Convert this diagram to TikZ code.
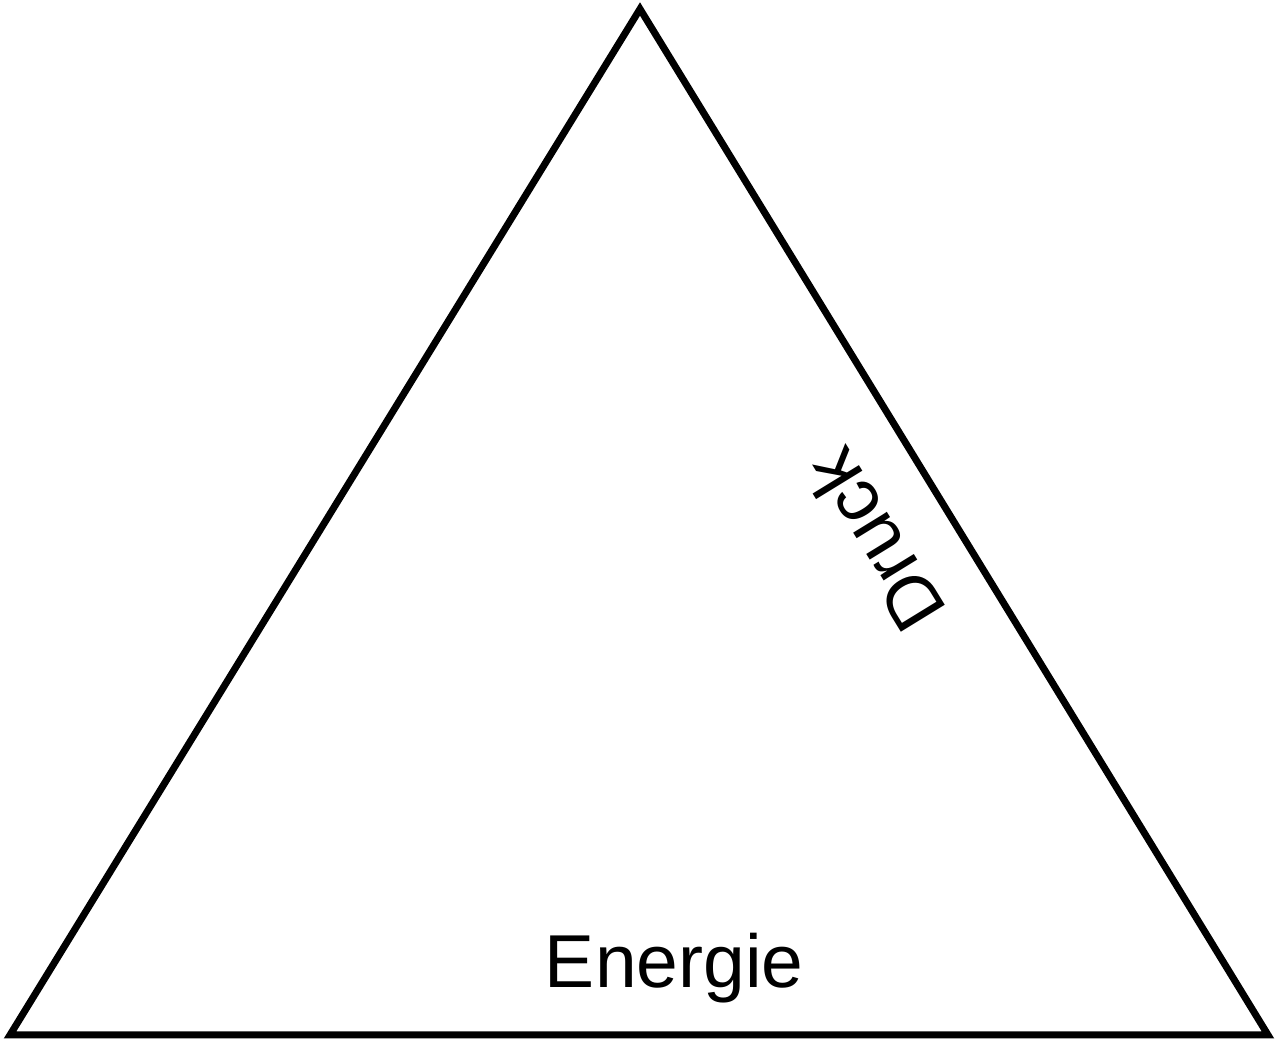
\documentclass[tikz,border=0pt]{standalone}
\usepackage{fontspec}
\setmainfont{Liberation Sans}
\usepackage{tikz}
\usetikzlibrary{
    positioning,
    calc
  }
\tikzset{
  edgeline/.style={draw,line width=7pt,line join=miter},
  bigtext/.style={font=\fontsize{75}{90}\selectfont,inner sep=0pt}
}

\begin{document}
\begin{tikzpicture}[x=1pt, y=1pt]

\useasboundingbox (0,0) rectangle (1277,1040);

\path[edgeline]
  (640,1031) coordinate (apex)
    -- (1268,5) coordinate (right)
    -- (10,5) coordinate (left)
    -- cycle
;

\path[]
  ($(left)!0.528!(right)+(0,47)$) node[bigtext,anchor=base] (energie) {Energie}
;
\path[]
  ($(apex)!0.479!(right)!78pt!-90:(right)$) node[bigtext,rotate=121.55] (druck) {Druck}
;

\end{tikzpicture}
\end{document}
